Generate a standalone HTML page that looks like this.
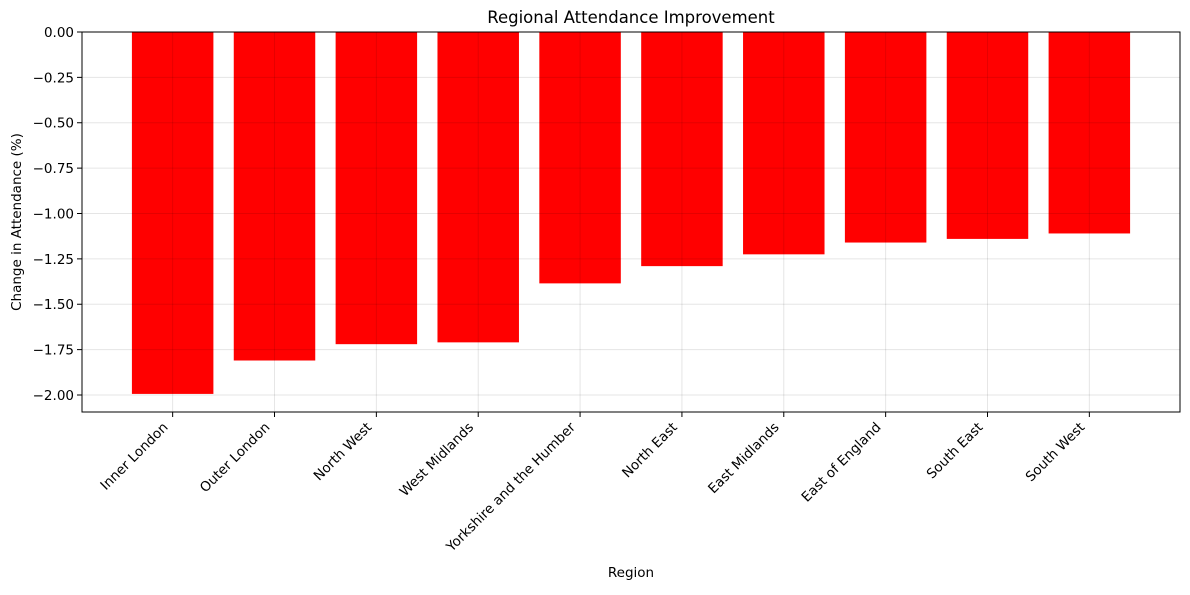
<!DOCTYPE html>
<html><head><meta charset="utf-8"><style>
body{margin:0;background:#fff;font-family:"Liberation Sans","DejaVu Sans",sans-serif;}
svg text{font-family:"DejaVu Sans","Liberation Sans",sans-serif;}
</style></head><body>
<svg id="chart" width="1190" height="590" xmlns="http://www.w3.org/2000/svg">
<rect width="1190" height="590" fill="#fff"/>
<text x="631" y="23" font-size="16.5" text-anchor="middle">Regional Attendance Improvement</text>
<g id="bars"></g><g id="grid"></g><g id="axes"></g>
<text x="631" y="577" font-size="13.5" text-anchor="middle">Region</text>
<text transform="translate(21,222) rotate(-90)" font-size="13.5" text-anchor="middle">Change in Attendance (%)</text>
</svg>
<script>
const categories=["Inner London","Outer London","North West","West Midlands","Yorkshire and the Humber","North East","East Midlands","East of England","South East","South West"];
const values=[-1.994,-1.81,-1.72,-1.71,-1.385,-1.29,-1.225,-1.16,-1.14,-1.11];
const yTicks=[0,-0.25,-0.5,-0.75,-1,-1.25,-1.5,-1.75,-2];
const tickLabels=["0.00","−0.25","−0.50","−0.75","−1.00","−1.25","−1.50","−1.75","−2.00"];
const NS="http://www.w3.org/2000/svg";
const L=82,R=1180,T=32,B=412;
const ymin=Math.min(...values)*1.05, ymax=0;
const y=v=>T+(ymax-v)/(ymax-ymin)*(B-T);
const n=categories.length, xr0=-0.4-(n-0.2)*0.05, xr1=n-1+0.4+(n-0.2)*0.05;
const x=i=>L+(i-xr0)/(xr1-xr0)*(R-L);
const bw=0.8*(R-L)/(xr1-xr0);
function mk(tag,attrs,parent){const e=document.createElementNS(NS,tag);for(const k in attrs)e.setAttribute(k,attrs[k]);document.getElementById(parent).appendChild(e);return e;}
values.forEach((v,i)=>{
 const r=mk('rect',{x:x(i)-bw/2,y:y(0),width:bw,height:y(v)-y(0),fill:'#ff0000'},'bars');
 
 
});
categories.forEach((c,i)=>{
 const gl=mk('line',{x1:x(i),x2:x(i),y1:T,y2:B,stroke:'#000','stroke-opacity':0.1,'stroke-width':1},'grid');
 
 
 const tk=mk('line',{x1:x(i),x2:x(i),y1:B,y2:B+5,stroke:'#000'},'axes');
 
 
 const t=mk('text',{x:0,y:0,'font-size':13.5,'text-anchor':'end',transform:`translate(${x(i)-4},${B+16}) rotate(-45)`},'axes');
 t.textContent=c;
 
 
});
yTicks.forEach((v,i)=>{
 const gl=mk('line',{x1:L,x2:R,y1:y(v),y2:y(v),stroke:'#000','stroke-opacity':0.1,'stroke-width':1},'grid');
 
 
 const tk=mk('line',{x1:L-5,x2:L,y1:y(v),y2:y(v),stroke:'#000'},'axes');
 
 
 const t=mk('text',{x:L-8,y:y(v)+5,'font-size':13.5,'text-anchor':'end'},'axes');
 t.textContent=tickLabels[i];
 
 
});
const fr=mk('rect',{x:L,y:T,width:R-L,height:B-T,fill:'none',stroke:'#000','stroke-width':1},'axes');


</script>
</body></html>
